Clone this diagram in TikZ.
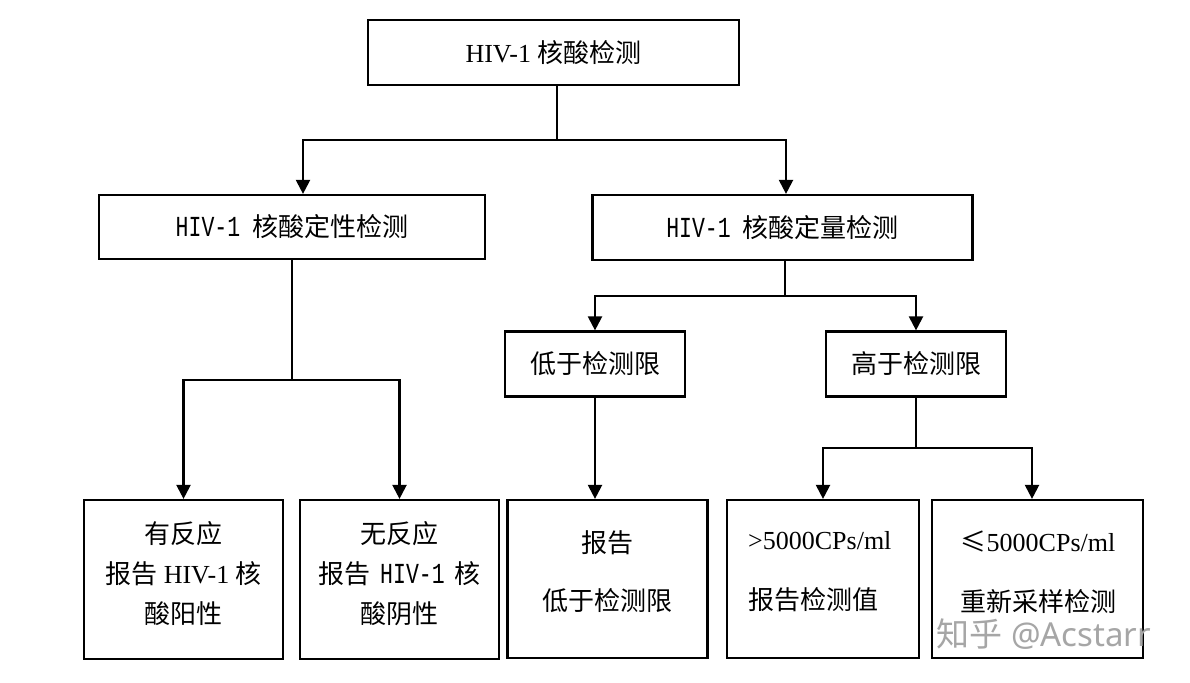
\documentclass[tikz,border=0pt]{standalone}
\usepackage{fontspec}
\usepackage{graphicx}
\setmainfont{Liberation Serif}
\newfontfamily\cjk{Noto Sans CJK SC}
\newfontfamily\monof{Liberation Mono}
\newfontfamily\wmfont{Noto Sans}
\newcommand{\zh}[1]{{\cjk #1}}
\newcommand{\mn}[1]{\scalebox{1}[1.35]{\monof\fontsize{21.5}{26}\selectfont #1}}
\usetikzlibrary{arrows.meta}
\tikzset{
  box/.style={draw, line width=2.2pt, inner sep=0pt, align=center,
    font=\fontsize{26}{40}\selectfont},
  txt/.style={inner sep=0pt, align=center},
  ln/.style={line width=2.2pt},
  arr/.style={line width=2.2pt, -{Triangle[width=14pt,length=14pt]}},
}
\begin{document}
\begin{tikzpicture}[x=1pt,y=-1pt]
\useasboundingbox[fill=white] (0,0) rectangle (1190,682);
% boxes
\node[box, minimum width=371pt, minimum height=65pt] (top) at (553.5,52.5) {HIV-1 \zh{核酸检测}};
\node[box, minimum width=386pt, minimum height=64pt] (l2a) at (292,227) {\mn{HIV-1}\hspace{12pt}\zh{核酸定性检测}};
\node[box, minimum width=380pt, minimum height=65pt] (l2b) at (782.5,227.5) {\mn{HIV-1}\hspace{12pt}\zh{核酸定量检测}};
\node[box, minimum width=180pt, minimum height=65pt] (low) at (595,364) {\zh{低于检测限}};
\node[box, minimum width=180pt, minimum height=65pt] (high) at (916,364) {\zh{高于检测限}};
\node[box, minimum width=199pt, minimum height=159pt] (b1) at (183.5,579.5) {};
\node[box, minimum width=199pt, minimum height=159pt] (b2) at (399.5,579.5) {};
\node[box, minimum width=200pt, minimum height=158pt] (b3) at (607.5,579) {};
\node[box, minimum width=192pt, minimum height=158pt] (b4) at (823,579) {};
\node[box, minimum width=211pt, minimum height=158pt] (b5) at (1037.5,579) {};
% texts in the bottom boxes
\node[txt, font=\fontsize{26}{40}\selectfont] (b1t) at (183.5,573.5) {\zh{有反应}\\\zh{报告} HIV-1 \zh{核}\\\zh{酸阳性}};
\node[txt, font=\fontsize{26}{40}\selectfont] (b2t) at (399.5,573.5) {\zh{无反应}\\\zh{报告}\hspace{10pt}\mn{HIV-1}\hspace{10pt}\zh{核}\\\zh{酸阴性}};
\node[txt, font=\fontsize{26}{58}\selectfont] (b3t) at (607.5,571.5) {\zh{报告}\\\zh{低于检测限}};
\node[txt, align=left, anchor=west, font=\fontsize{26}{60}\selectfont] (b4t) at (748,572) {>5000CPs/ml\\\zh{报告检测值}};
\node[txt, font=\fontsize{26}{60}\selectfont] (b5t) at (1038,572) {\zh{≤}5000CPs/ml\\\zh{重新采样检测}};
% connectors
\coordinate (j1) at (557,140);
\draw[ln] (top.south -| j1) -- (j1);
\draw[arr] (j1) -| ([xshift=11pt]l2a.north);
\draw[arr] (j1) -| ([xshift=3.5pt]l2b.north);
\coordinate (j2) at (292,380);
\draw[ln] (l2a.south) -- (j2);
\draw[arr] (j2) -| (b1.north);
\draw[arr] (j2) -| (b2.north);
\coordinate (j3) at (785,296);
\draw[ln] (l2b.south -| j3) -- (j3);
\draw[arr] (j3) -| (low.north);
\draw[arr] (j3) -| (high.north);
\draw[arr] (low.south) -- (low.south |- b3.north);
\coordinate (j4) at (916,448);
\draw[ln] (high.south) -- (j4);
\draw[arr] (j4) -| (b4.north);
\draw[arr] (j4) -| ([xshift=-5.5pt]b5.north);
% watermark
\node[txt, text=black!35, font=\fontsize{33}{40}\selectfont] (wm) at (1044,634) {\zh{知乎} {\wmfont @Acstarr}};
\end{tikzpicture}
\end{document}
